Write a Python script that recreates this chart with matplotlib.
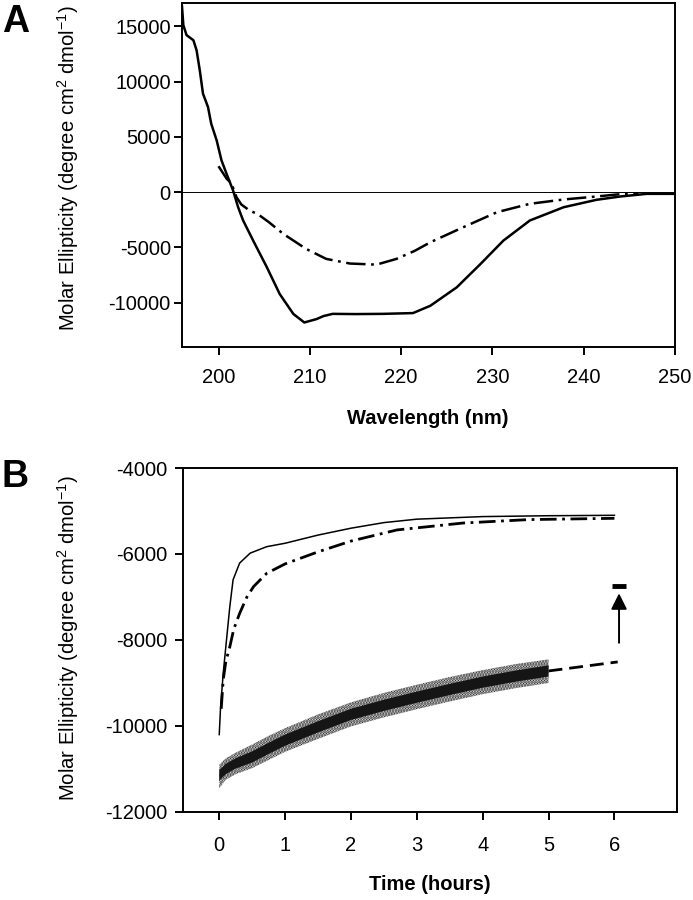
import matplotlib
matplotlib.use("Agg")
import matplotlib.pyplot as plt

plt.rcParams['font.family'] = ['Liberation Sans', 'DejaVu Sans']
plt.rcParams['mathtext.default'] = 'regular'
plt.rcParams['lines.scale_dashes'] = False
plt.rcParams['axes.unicode_minus'] = False
plt.rcParams['hatch.linewidth'] = 1.6

# ---------------- Panel A data (CD spectra) ----------------
wl_solid = [196.0, 196.15, 196.5, 197.25, 197.6, 197.95, 198.3, 198.85, 199.2, 199.8,
            200.33, 200.88, 201.6, 202.15, 202.7, 203.8, 205.3, 206.7, 208.2, 209.4,
            210.75, 211.5, 212.5, 215.0, 218.0, 221.3, 223.2, 226.1, 228.7, 231.2,
            234.1, 237.8, 241.4, 244.0, 246.9, 250.0]
cd_solid = [16800, 15100, 14200, 13740, 12830, 11020, 8910, 7700, 6200, 4680,
            2870, 1670, 150, -1360, -2560, -4380, -6790, -9200, -11010, -11780,
            -11470, -11200, -11000, -11020, -11000, -10930, -10270, -8600, -6490, -4380,
            -2560, -1360, -690, -390, -150, -150]

wl_dashdot = [200.0, 200.9, 201.4, 201.97, 202.5, 203.4, 204.3, 205.5, 207.1, 209.6,
              211.8, 214.4, 217.3, 219.5, 221.5, 223.2, 226.8, 230.5, 234.1, 237.8,
              241.4, 243.6, 246.0]
cd_dashdot = [2350, 1210, 820, -450, -1110, -1660, -1980, -2700, -3770, -5130,
              -6030, -6450, -6550, -6030, -5300, -4530, -3170, -1810, -1050, -660,
              -390, -210, -100]

# ---------------- Panel B data (time course) ----------------
t_solid = [0.0, 0.02, 0.06, 0.11, 0.16, 0.21, 0.31, 0.47, 0.72, 1.0, 1.5, 2.0, 2.5,
           3.0, 4.0, 5.0, 6.0]
v_solid = [-10200, -9560, -8780, -8000, -7230, -6600, -6210, -5980, -5830, -5750,
           -5560, -5400, -5270, -5190, -5130, -5110, -5100]

t_dashdot = [0.03, 0.06, 0.1, 0.16, 0.22, 0.31, 0.42, 0.52, 0.72, 1.0, 1.5, 2.0,
             2.7, 3.7, 4.7, 6.0]
v_dashdot = [-9600, -8930, -8500, -8160, -7750, -7380, -7000, -6760, -6450, -6230,
             -5950, -5700, -5440, -5280, -5200, -5170]

t_band = [0.0, 0.1, 0.25, 0.5, 0.75, 1.0, 1.5, 2.0, 2.5, 3.0, 3.5, 4.0, 4.5, 5.0]
band_hi = [-10900, -10750, -10620, -10430, -10230, -10050, -9730, -9450, -9230,
           -9040, -8860, -8700, -8560, -8450]
band_lo = [-11450, -11250, -11120, -10980, -10790, -10600, -10300, -10010, -9800,
           -9610, -9430, -9260, -9120, -9000]
core_hi = [-11030, -10880, -10750, -10590, -10390, -10200, -9890, -9600, -9390,
           -9200, -9020, -8850, -8710, -8590]
core_lo = [-11270, -11120, -10990, -10850, -10650, -10460, -10150, -9860, -9650,
           -9460, -9280, -9110, -8970, -8850]

t_fit = [5.0, 6.05]
v_fit = [-8720, -8510]

# arrow and final bar (annotation)
arrow_t = 6.07
arrow_from = -8065
arrow_to = -6915
bar_t = [5.97, 6.17]
bar_v = [-6750, -6750]

fig = plt.figure(figsize=(6.93, 9.0), dpi=100)

def style(ax):
    for s in ax.spines.values():
        s.set_linewidth(1.4)
    ax.tick_params(direction='out', length=6, width=1.4, labelsize=14.5, pad=4,
                   top=False, right=False)

# Panel A
axA = fig.add_axes([0.2626, 0.6144, 0.7114, 0.3822])
axA.axhline(0, color='black', lw=0.7)
axA.plot(wl_solid, cd_solid, color='black', lw=1.8)
axA.plot(wl_dashdot, cd_dashdot, color='black', lw=1.8,
         dashes=(14, 4, 2, 4))
axA.set_xlim(196, 250)
axA.set_ylim(-14000, 17100)
axA.set_xticks([200, 210, 220, 230, 240, 250])
axA.set_yticks([-10000, -5000, 0, 5000, 10000, 15000])
style(axA)
axA.tick_params(axis='x', pad=9)
axA.tick_params(axis='y', pad=2)

# Panel B
axB = fig.add_axes([0.2641, 0.0978, 0.7128, 0.3822])
axB.fill_between(t_band, band_lo, band_hi, facecolor='none', edgecolor='#222222',
                 hatch='......', lw=0)
axB.fill_between(t_band, core_lo, core_hi, facecolor='#151515', lw=0)
axB.plot(t_solid, v_solid, color='black', lw=1.1)
axB.plot(t_dashdot, v_dashdot, color='black', lw=2.0, dashes=(12, 4, 2, 4))
axB.plot(t_fit, v_fit, color='black', lw=2.0, dashes=(10, 5))
axB.plot(bar_t, bar_v, color='black', lw=3.5, solid_capstyle='butt')
axB.annotate('', xy=(arrow_t, arrow_to), xytext=(arrow_t, arrow_from),
             arrowprops=dict(arrowstyle='-|>', color='black', lw=1.4,
                             mutation_scale=24, shrinkA=0, shrinkB=0))
axB.set_xlim(-0.55, 6.95)
axB.set_ylim(-12000, -4000)
axB.set_xticks([0, 1, 2, 3, 4, 5, 6])
axB.set_yticks([-12000, -10000, -8000, -6000, -4000])
style(axB)
axB.tick_params(axis='x', pad=11)
axB.tick_params(axis='y', pad=5)

ylab = 'Molar Ellipticity (degree cm$^{2}$ dmol$^{-1}$)'
fig.text(68 / 693, 1 - 168 / 900, ylab, rotation=90, ha='center', va='center',
         fontsize=14.6)
fig.text(68 / 693, 1 - 638 / 900, ylab, rotation=90, ha='center', va='center',
         fontsize=14.6)
fig.text(428 / 693, 1 - 418 / 900, 'Wavelength (nm)', ha='center', va='center',
         fontsize=14.5, fontweight='bold')
fig.text(430 / 693, 1 - 884 / 900, 'Time (hours)', ha='center', va='center',
         fontsize=14.5, fontweight='bold')
fig.text(2 / 693, 1 - 32 / 900, 'A', ha='left', va='baseline', fontsize=27,
         fontweight='bold')
fig.text(2 / 693, 1 - 487 / 900, 'B', ha='left', va='baseline', fontsize=27,
         fontweight='bold')

fig.savefig('out.png', dpi=100)
